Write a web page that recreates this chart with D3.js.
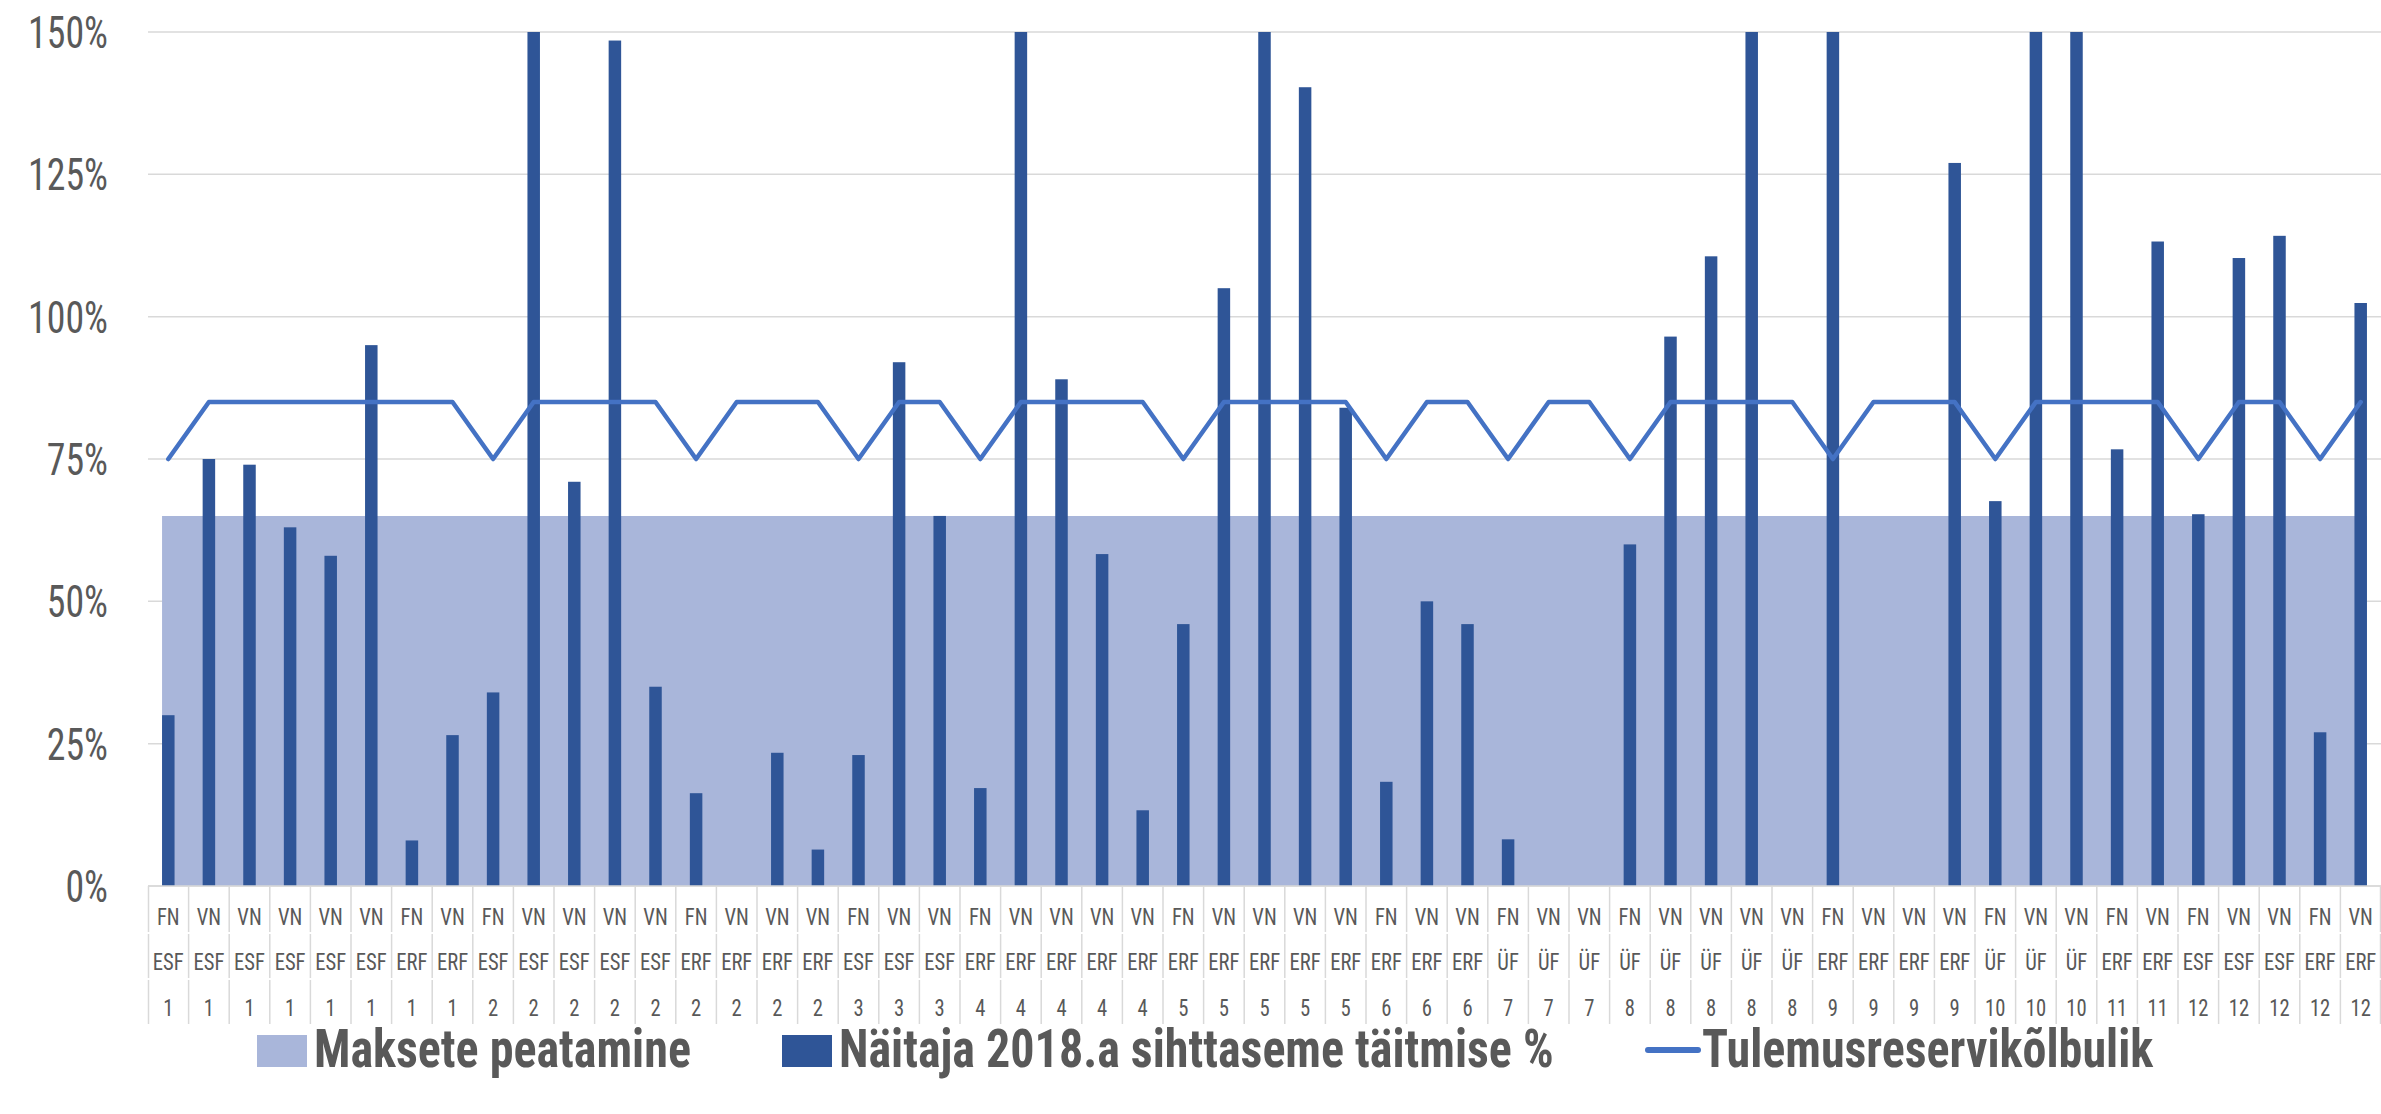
<html>
<head>
<meta charset="utf-8">
<script src="https://d3js.org/d3.v7.min.js"></script>
<style>
  body { margin: 0; background: #fff; }
  text { font-family: "Roboto Condensed", Roboto, "Liberation Sans", sans-serif; fill: #595959; }
</style>
</head>
<body>
<div id="chart"></div>
<script>
// category labels (three levels)
const programmes = ["FN","VN","VN","VN","VN","VN","FN","VN",
  "FN","VN","VN","VN","VN","FN","VN","VN","VN",
  "FN","VN","VN",
  "FN","VN","VN","VN","VN",
  "FN","VN","VN","VN","VN",
  "FN","VN","VN",
  "FN","VN","VN",
  "FN","VN","VN","VN","VN",
  "FN","VN","VN","VN",
  "FN","VN","VN",
  "FN","VN",
  "FN","VN","VN","FN","VN"];
const funds = ["ESF","ESF","ESF","ESF","ESF","ESF","ERF","ERF",
  "ESF","ESF","ESF","ESF","ESF","ERF","ERF","ERF","ERF",
  "ESF","ESF","ESF",
  "ERF","ERF","ERF","ERF","ERF",
  "ERF","ERF","ERF","ERF","ERF",
  "ERF","ERF","ERF",
  "ÜF","ÜF","ÜF",
  "ÜF","ÜF","ÜF","ÜF","ÜF",
  "ERF","ERF","ERF","ERF",
  "ÜF","ÜF","ÜF",
  "ERF","ERF",
  "ESF","ESF","ESF","ERF","ERF"];
const axes = [1,1,1,1,1,1,1,1,
  2,2,2,2,2,2,2,2,2,
  3,3,3,
  4,4,4,4,4,
  5,5,5,5,5,
  6,6,6,
  7,7,7,
  8,8,8,8,8,
  9,9,9,9,
  10,10,10,
  11,11,
  12,12,12,12,12];

// series (%)
const paymentStop = [65,65,65,65,65,65,65,65,
  65,65,65,65,65,65,65,65,65,
  65,65,65,
  65,65,65,65,65,
  65,65,65,65,65,
  65,65,65,
  65,65,65,
  65,65,65,65,65,
  65,65,65,65,
  65,65,65,
  65,65,
  65,65,65,65,65];
const achievement = [30,75,74,63,58,95,8,26.5,
  34,165,71,148.5,35,16.3,null,23.4,6.4,
  23,92,65,
  17.2,170,89,58.3,13.3,
  46,105,180,140.3,84,
  18.3,50,46,
  8.2,null,null,
  60,96.5,110.6,190,null,
  155,null,null,127,
  67.6,160,175,
  76.7,113.2,
  65.3,110.3,114.2,27,102.4];
const reserveEligible = [75,85,85,85,85,85,85,85,
  75,85,85,85,85,75,85,85,85,
  75,85,85,
  75,85,85,85,85,
  75,85,85,85,85,
  75,85,85,
  75,85,85,
  75,85,85,85,85,
  75,85,85,85,
  75,85,85,
  85,85,
  75,85,85,75,85];

const yTicks = [0,25,50,75,100,125,150];
const seriesNames = ["Maksete peatamine", "Näitaja 2018.a sihttaseme täitmise %", "Tulemusreservikõlbulik"];

const width = 2381, height = 1114;
const margin = {top: 32, right: 0, bottom: 228, left: 148};
const plotBottom = height - margin.bottom;
const squeeze = 0.86;
const barWidth = 12.5;

const data = programmes.map((p, i) => ({
  id: i, prog: p, fund: funds[i], axis: axes[i],
  stop: paymentStop[i], value: achievement[i], reserve: reserveEligible[i]
}));

const x = d3.scaleBand()
  .domain(data.map(d => d.id))
  .range([margin.left, width - margin.right])
  .padding(0);
const cx = d => x(d.id) + x.bandwidth() / 2;

const y = d3.scaleLinear()
  .domain([0, 150])
  .range([plotBottom, margin.top]);

const svg = d3.select("#chart").append("svg")
  .attr("width", width)
  .attr("height", height);

svg.append("clipPath").attr("id", "plot-clip")
  .append("rect")
  .attr("x", margin.left).attr("y", margin.top)
  .attr("width", width - margin.left - margin.right)
  .attr("height", plotBottom - margin.top);

// gridlines + y labels
const yAxis = svg.append("g")
  .attr("transform", `translate(${margin.left},0)`)
  .call(d3.axisLeft(y).tickValues(yTicks).tickSize(0).tickFormat(d => d + "%"));
yAxis.select(".domain").remove();
yAxis.selectAll("text")
  .attr("x", null)
  .attr("dy", "0.35em")
  .attr("transform", `translate(-40,0) scale(${squeeze},1)`)
  .style("font-size", "44px")
  .style("fill", "#595959");

svg.append("g").selectAll("line")
  .data(yTicks)
  .join("line")
  .attr("x1", margin.left).attr("x2", width - margin.right)
  .attr("y1", d => y(d)).attr("y2", d => y(d))
  .attr("stroke", "#D9D9D9")
  .attr("stroke-width", 1.5);

// area: Maksete peatamine
const areaPts = [{x: cx(data[0]) - barWidth / 2, v: data[0].stop}]
  .concat(data.map(d => ({x: cx(d), v: d.stop})))
  .concat([{x: cx(data[data.length - 1]) + barWidth / 2, v: data[data.length - 1].stop}]);
svg.append("path")
  .datum(areaPts)
  .attr("fill", "#A9B6DA")
  .attr("d", d3.area().x(d => d.x).y0(y(0)).y1(d => y(d.v)));

// bars
svg.append("g")
  .attr("clip-path", "url(#plot-clip)")
  .selectAll("rect")
  .data(data.filter(d => d.value != null))
  .join("rect")
  .attr("x", d => cx(d) - barWidth / 2)
  .attr("width", barWidth)
  .attr("y", d => y(d.value))
  .attr("height", d => y(0) - y(d.value))
  .attr("fill", "#2F5597");

// line
svg.append("path")
  .datum(data)
  .attr("fill", "none")
  .attr("stroke", "#4472C4")
  .attr("stroke-width", 4.5)
  .attr("stroke-linejoin", "round")
  .attr("stroke-linecap", "round")
  .attr("d", d3.line().x(cx).y(d => y(d.reserve)));

// category axis (three rows)
const rows = [
  {key: "prog", y: 917, top: plotBottom, bottom: 932},
  {key: "fund", y: 962, top: 934, bottom: 978},
  {key: "axis", y: 1008, top: 980, bottom: 1024}
];
const boundaries = data.map(d => x(d.id)).concat([width - margin.right - 0.5]);
rows.forEach(r => {
  svg.append("g").selectAll("line")
    .data(boundaries)
    .join("line")
    .attr("x1", d => Math.max(d, margin.left + 0.5)).attr("x2", d => Math.max(d, margin.left + 0.5))
    .attr("y1", r.top).attr("y2", r.bottom)
    .attr("stroke", "#D9D9D9")
    .attr("stroke-width", 1.5);
  svg.append("g").selectAll("text")
    .data(data)
    .join("text")
    .attr("text-anchor", "middle")
    .attr("dy", "0.35em")
    .attr("transform", d => `translate(${cx(d)},${r.y}) scale(${squeeze},1)`)
    .style("font-size", "24px")
    .text(d => d[r.key]);
});
svg.append("line")
  .attr("x1", margin.left).attr("x2", width - margin.right)
  .attr("y1", plotBottom).attr("y2", plotBottom)
  .attr("stroke", "#D9D9D9")
  .attr("stroke-width", 1.5);

// legend
const legendY = 1067;
const legendItems = [
  {name: seriesNames[0], kind: "rect", color: "#A9B6DA", x: 257},
  {name: seriesNames[1], kind: "rect", color: "#2F5597", x: 782},
  {name: seriesNames[2], kind: "line", color: "#4472C4", x: 1645}
];
const legend = svg.append("g");
legendItems.forEach(it => {
  if (it.kind === "rect") {
    legend.append("rect")
      .attr("x", it.x).attr("y", legendY - 32)
      .attr("width", 50).attr("height", 32)
      .attr("fill", it.color);
  } else {
    legend.append("line")
      .attr("x1", it.x + 3).attr("x2", it.x + 53)
      .attr("y1", legendY - 17).attr("y2", legendY - 17)
      .attr("stroke", it.color)
      .attr("stroke-width", 6)
      .attr("stroke-linecap", "round");
  }
  legend.append("text")
    .attr("transform", `translate(${it.x + 57},${legendY}) scale(0.89,1)`)
    .style("font-size", "54px")
    .style("font-weight", "bold")
    .text(it.name);
});
</script>
</body>
</html>
